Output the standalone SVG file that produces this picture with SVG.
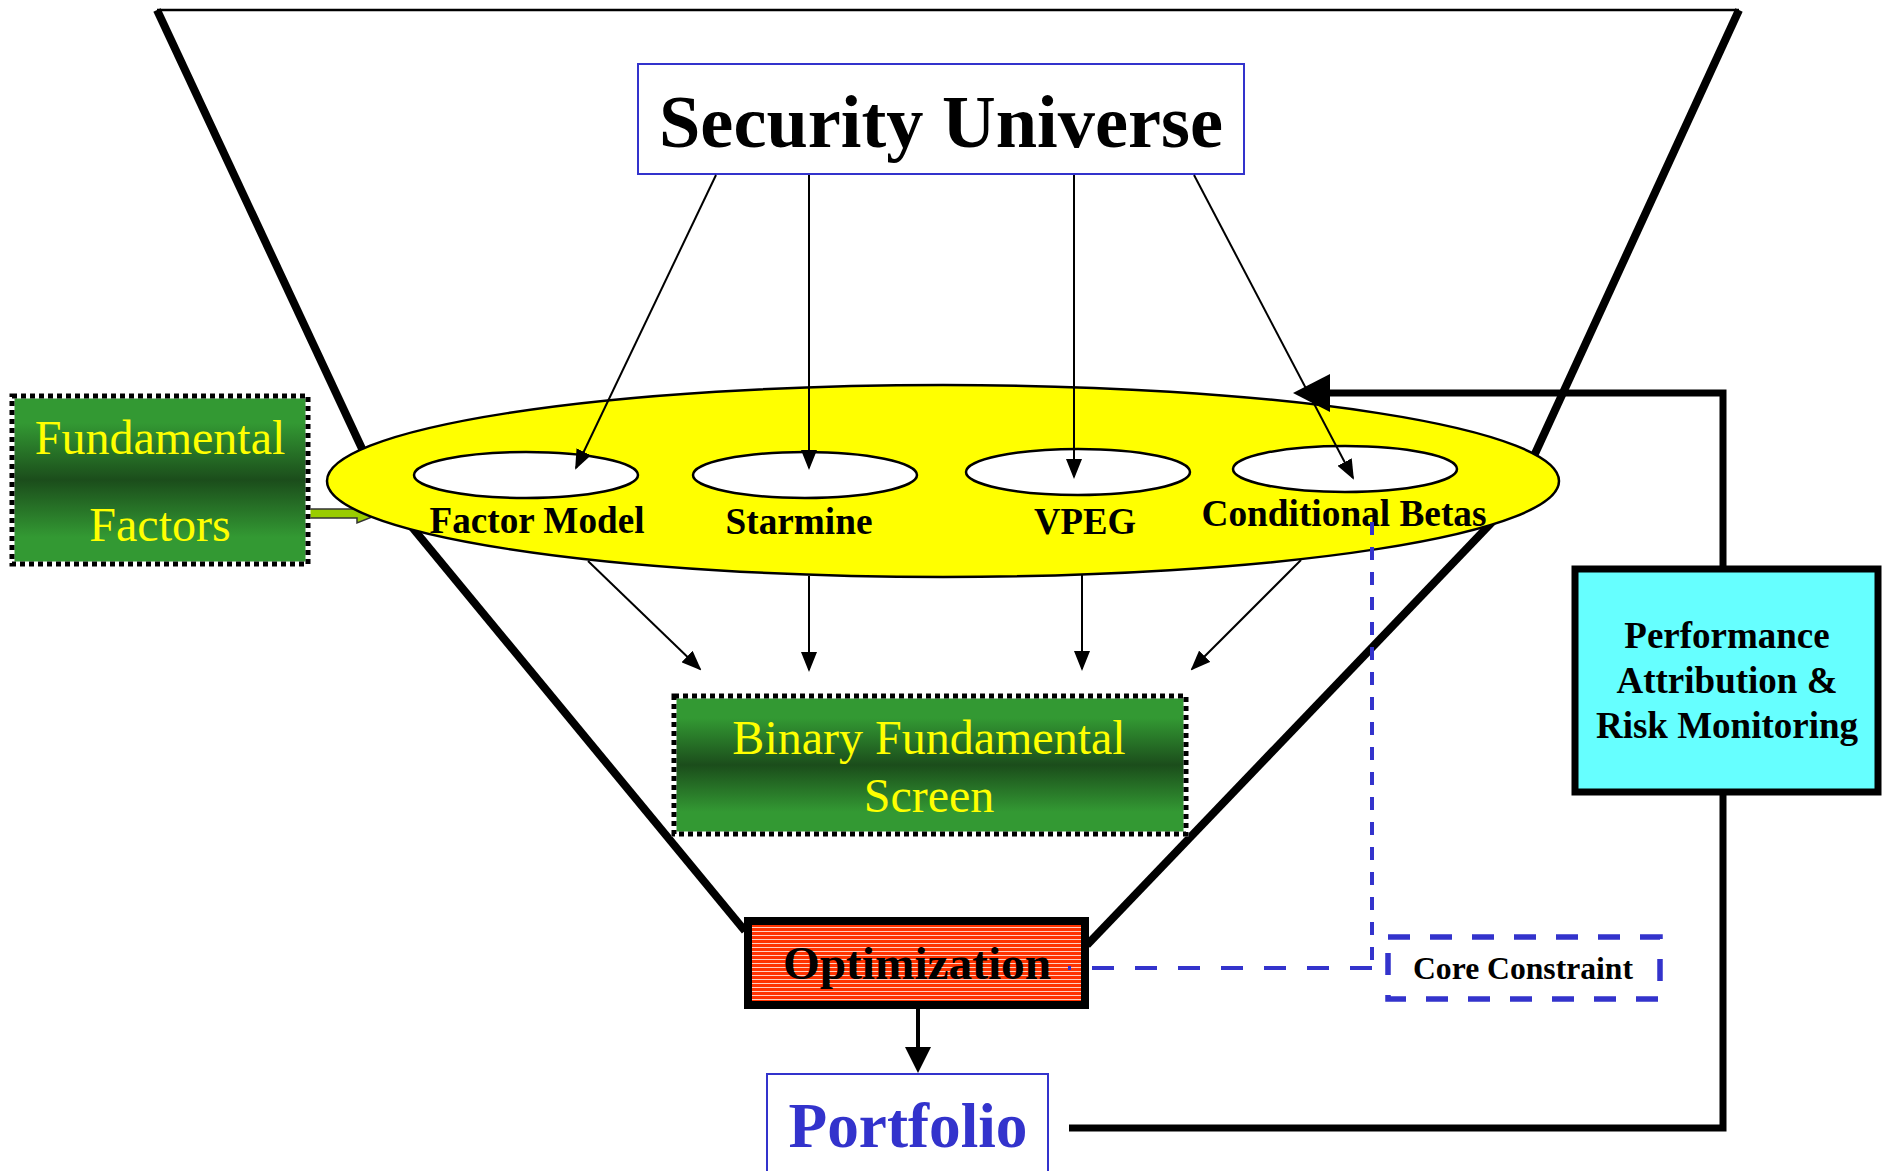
<svg xmlns="http://www.w3.org/2000/svg" width="1883" height="1171" viewBox="0 0 1883 1171">
  <defs>
    <style>
      .serif { font-family: "Liberation Serif", "Times New Roman", serif; }
      .bold { font-weight: bold; }
      .thin { fill: none; stroke: #000; stroke-width: 2; }
      .funnel { fill: none; stroke: #000; stroke-width: 8; }
      .inner { fill: #fff; stroke: #000; stroke-width: 2.5; }
      .label { font-size: 37px; fill: #000; text-anchor: middle; }
      .blue-dash { fill: none; stroke: #3333cc; stroke-width: 4; }
      .green-box { fill: url(#greenGrad); stroke: #fff; stroke-width: 5; }
      .dots { fill: none; stroke: #000; stroke-width: 5; stroke-dasharray: 5 4; }
      .yellow-text { fill: #ffff00; font-size: 48px; text-anchor: middle; }
    </style>
    <linearGradient id="greenGrad" x1="0" y1="0" x2="0" y2="1">
      <stop offset="0" stop-color="#339933"/>
      <stop offset="0.16" stop-color="#339933"/>
      <stop offset="0.5" stop-color="#1b4d1b"/>
      <stop offset="0.84" stop-color="#339933"/>
      <stop offset="1" stop-color="#339933"/>
    </linearGradient>
    <pattern id="stripes" width="8" height="4" patternUnits="userSpaceOnUse">
      <rect width="8" height="4" fill="#ff3300"/>
      <rect y="3" width="8" height="1" fill="#ffd0c0"/>
    </pattern>
    <marker id="ah" markerWidth="20" markerHeight="16" refX="18" refY="8" orient="auto" markerUnits="userSpaceOnUse">
      <path d="M0,0 L20,8 L0,16 z" fill="#000"/>
    </marker>
  </defs>

  <rect width="1883" height="1171" fill="#fff"/>

  <!-- funnel outline: side segments end under the model layer -->
  <g id="funnel">
    <line x1="157" y1="10" x2="1739" y2="10" stroke="#000" stroke-width="2.5"/>
    <line class="funnel" x1="157" y1="10" x2="379" y2="485"/>
    <line class="funnel" x1="402" y1="515" x2="745" y2="931"/>
    <line class="funnel" x1="1739" y1="10" x2="1516" y2="495"/>
    <line class="funnel" x1="1497" y1="517" x2="1087" y2="945"/>
  </g>

  <!-- Fundamental Factors -->
  <g id="fundamental-factors">
    <polygon points="309,509 357,509 357,505 382,513 357,523 357,518 309,518" fill="#99cc00" stroke="#333" stroke-width="1.5"/>
    <rect class="green-box" x="12" y="396" width="296" height="168"/>
    <rect class="dots" x="12" y="396" width="296" height="168"/>
    <text class="serif yellow-text" x="160" y="454">Fundamental</text>
    <text class="serif yellow-text" x="160" y="541">Factors</text>
  </g>

  <!-- model layer -->
  <g id="model-layer">
    <ellipse cx="943" cy="481" rx="616" ry="96" fill="#ffff00" stroke="#000" stroke-width="2.5"/>
  </g>
  <g id="factor-model">
    <ellipse class="inner" cx="526" cy="475" rx="112" ry="23"/>
    <text class="serif bold label" x="537" y="533" textLength="215" lengthAdjust="spacingAndGlyphs">Factor Model</text>
  </g>
  <g id="starmine">
    <ellipse class="inner" cx="805" cy="475" rx="112" ry="23"/>
    <text class="serif bold label" x="799" y="534" textLength="147" lengthAdjust="spacingAndGlyphs">Starmine</text>
  </g>
  <g id="vpeg">
    <ellipse class="inner" cx="1078" cy="472" rx="112" ry="23"/>
    <text class="serif bold label" x="1085" y="534" textLength="102" lengthAdjust="spacingAndGlyphs">VPEG</text>
  </g>
  <g id="conditional-betas">
    <ellipse class="inner" cx="1345" cy="469" rx="112" ry="23"/>
    <text class="serif bold label" x="1344" y="526" textLength="285" lengthAdjust="spacingAndGlyphs">Conditional Betas</text>
  </g>

  <!-- Security Universe -->
  <g id="security-universe">
    <rect x="638" y="64" width="606" height="110" fill="#fff" stroke="#3333cc" stroke-width="2"/>
    <text class="serif bold" x="941" y="147" font-size="74" text-anchor="middle" textLength="564" lengthAdjust="spacingAndGlyphs">Security Universe</text>
  </g>

  <!-- Binary Fundamental Screen -->
  <g id="binary-screen">
    <rect class="green-box" x="674" y="696" width="512" height="138"/>
    <rect class="dots" x="674" y="696" width="512" height="138"/>
    <text class="serif yellow-text" x="929" y="754">Binary Fundamental</text>
    <text class="serif yellow-text" x="929" y="812">Screen</text>
  </g>

  <!-- Optimization -->
  <g id="optimization">
    <rect x="748" y="921" width="337" height="84" fill="url(#stripes)" stroke="#000" stroke-width="8"/>
    <text class="serif bold" x="917" y="979" font-size="47" text-anchor="middle" textLength="268" lengthAdjust="spacingAndGlyphs">Optimization</text>
  </g>

  <!-- Core Constraint -->
  <g id="core-constraint">
    <rect x="1388" y="937" width="272" height="62" fill="#fff" stroke="#3333cc" stroke-width="5.5" stroke-dasharray="22 20"/>
    <text class="serif bold" x="1523" y="979" font-size="31" text-anchor="middle" textLength="220" lengthAdjust="spacingAndGlyphs">Core Constraint</text>
  </g>

  <!-- Portfolio -->
  <g id="portfolio">
    <rect x="767" y="1074" width="281" height="110" fill="#fff" stroke="#3333cc" stroke-width="2"/>
    <text class="serif bold" x="908" y="1147" font-size="63" fill="#3333cc" text-anchor="middle" textLength="239" lengthAdjust="spacingAndGlyphs">Portfolio</text>
  </g>

  <!-- connectors -->
  <g id="connectors">
    <line class="thin" x1="716" y1="175" x2="576" y2="468" marker-end="url(#ah)"/>
    <line class="thin" x1="809" y1="175" x2="809" y2="468" marker-end="url(#ah)"/>
    <line class="thin" x1="1074" y1="175" x2="1074" y2="477" marker-end="url(#ah)"/>
    <line class="thin" x1="1194" y1="175" x2="1353" y2="478" marker-end="url(#ah)"/>

    <line class="thin" x1="588" y1="561" x2="700" y2="669" marker-end="url(#ah)"/>
    <line class="thin" x1="809" y1="576" x2="809" y2="670" marker-end="url(#ah)"/>
    <line class="thin" x1="1082" y1="574" x2="1082" y2="669" marker-end="url(#ah)"/>
    <line class="thin" x1="1301" y1="560" x2="1192" y2="669" marker-end="url(#ah)"/>

    <!-- optimization to portfolio -->
    <line x1="918" y1="1009" x2="918" y2="1048" stroke="#000" stroke-width="4"/>
    <polygon points="905,1047 931,1047 918,1073" fill="#000"/>

    <!-- core constraint link -->
    <path class="blue-dash" d="M1372,522 V968" stroke-dasharray="13 12"/>
    <path class="blue-dash" d="M1372,968 H1068" stroke-dasharray="22 21"/>

    <!-- feedback loop -->
    <path d="M1069,1128 H1723 V393 H1326" fill="none" stroke="#000" stroke-width="7" stroke-linejoin="miter"/>
    <polygon points="1293,393 1330,374 1330,412" fill="#000"/>
  </g>

  <!-- Performance Attribution & Risk Monitoring -->
  <g id="performance">
    <rect x="1575" y="569" width="303" height="223" fill="#66ffff" stroke="#000" stroke-width="7"/>
    <text class="serif bold" x="1727" y="648" font-size="37" text-anchor="middle">Performance</text>
    <text class="serif bold" x="1727" y="693" font-size="37" text-anchor="middle">Attribution &amp;</text>
    <text class="serif bold" x="1727" y="738" font-size="37" text-anchor="middle">Risk Monitoring</text>
  </g>
</svg>
